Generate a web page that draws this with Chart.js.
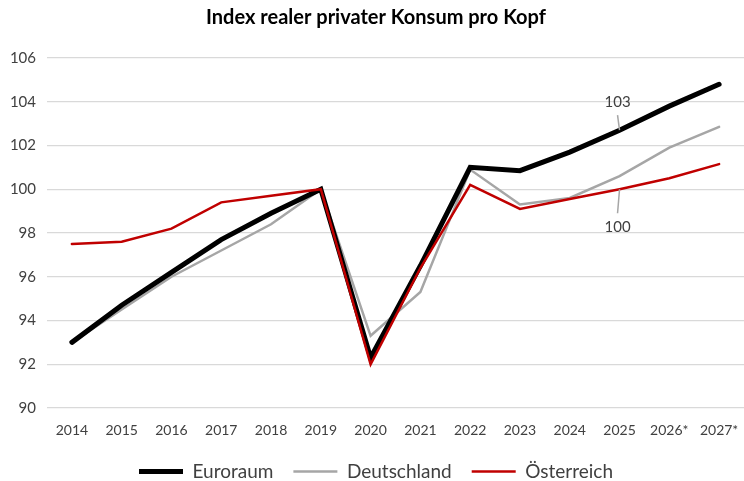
<!DOCTYPE html>
<html>
<head>
<meta charset="utf-8">
<script src="https://cdn.jsdelivr.net/npm/chart.js@4"></script>
<style>
  html, body { margin: 0; padding: 0; background: #fff; }
  #wrap { width: 744px; height: 481px; }
</style>
</head>
<body>
<div id="wrap"><canvas id="konsumChart" width="744" height="481"></canvas></div>
<script>
// Index realer privater Konsum pro Kopf (2019 = 100)
const years = ['2014', '2015', '2016', '2017', '2018', '2019', '2020', '2021', '2022', '2023', '2024', '2025', '2026*', '2027*'];
const euroraum = [93.0, 94.7, 96.2, 97.7, 98.9, 100.0, 92.3, 96.5, 101.0, 100.85, 101.7, 102.7, 103.8, 104.8];
const deutschland = [93.0, 94.5, 96.0, 97.2, 98.4, 100.0, 93.3, 95.3, 100.9, 99.3, 99.6, 100.6, 101.9, 102.85];
const oesterreich = [97.5, 97.6, 98.2, 99.4, 99.7, 100.0, 92.0, 96.4, 100.2, 99.1, 99.55, 100.0, 100.5, 101.15];
const yTicks = [90, 92, 94, 96, 98, 100, 102, 104, 106];

// labelled points: [dataset index, data index, leader end offset, text offset]
const pointLabels = [[0, 11, -15, -28], [2, 11, 24, 38]];

const fontFamily = 'Lato, "Open Sans", sans-serif';

// Draws the two data labels with their leader lines
const leaderLabels = {
    id: 'leaderLabels',
    afterDatasetsDraw(chart) {
        const ctx = chart.ctx;
        ctx.save();
        ctx.font = '15px ' + fontFamily;
        ctx.fillStyle = '#404040';
        ctx.strokeStyle = '#a6a6a6';
        ctx.lineWidth = 1.5;
        ctx.textAlign = 'center';
        ctx.textBaseline = 'middle';
        pointLabels.forEach(([ds, idx, lineEnd, textOff]) => {
            const pt = chart.getDatasetMeta(ds).data[idx];
            const value = chart.data.datasets[ds].data[idx];
            const x = pt.x - 2;
            ctx.beginPath();
            ctx.moveTo(pt.x, pt.y);
            ctx.lineTo(x, pt.y + lineEnd);
            ctx.stroke();
            ctx.fillText(String(Math.round(value)), x, pt.y + textOff);
        });
        ctx.restore();
    }
};

const ctx = document.getElementById('konsumChart').getContext('2d');
const konsumChart = new Chart(ctx, {
    type: 'line',
    data: {
        labels: years,
        datasets: [
            {
                label: 'Euroraum',
                data: euroraum,
                borderColor: '#000000',
                backgroundColor: '#000000',
                borderWidth: 5,
                order: 1
            },
            {
                label: 'Deutschland',
                data: deutschland,
                borderColor: '#a6a6a6',
                backgroundColor: '#a6a6a6',
                borderWidth: 2.5,
                order: 2
            },
            {
                label: 'Österreich',
                data: oesterreich,
                borderColor: '#c00000',
                backgroundColor: '#c00000',
                borderWidth: 2.5,
                order: 0
            }
        ]
    },
    options: {
        responsive: false,
        animation: false,
        layout: { padding: { left: 0, right: -8, top: 0, bottom: -10 } },
        elements: {
            point: { radius: 0, hoverRadius: 0 },
            line: { tension: 0, borderCapStyle: 'round', borderJoinStyle: 'miter' }
        },
        plugins: {
            title: {
                display: true,
                text: 'Index realer privater Konsum pro Kopf',
                color: '#000000',
                font: { family: fontFamily, size: 20, weight: 'bold' },
                padding: { top: 6, bottom: 28 }
            },
            legend: {
                position: 'bottom',
                labels: {
                    usePointStyle: true,
                    pointStyle: 'line',
                    pointStyleWidth: 44,
                    color: '#404040',
                    font: { family: fontFamily, size: 19 },
                    padding: 20,
                    sort: (a, b) => a.datasetIndex - b.datasetIndex
                }
            },
            tooltip: { enabled: false }
        },
        scales: {
            x: {
                offset: true,
                afterFit: (scale) => {
                    scale.height = 34;
                    scale.paddingLeft = 0;
                    scale.paddingRight = 0;
                },
                grid: { display: false, drawTicks: false },
                border: { display: false },
                ticks: {
                    color: '#404040',
                    font: { family: fontFamily, size: 14 },
                    maxRotation: 0,
                    autoSkip: false,
                    padding: 14
                }
            },
            y: {
                min: 90,
                max: 106,
                afterBuildTicks: (scale) => {
                    scale.ticks = yTicks.map(v => ({ value: v }));
                },
                afterFit: (scale) => { scale.width = 47; },
                grid: { color: '#d9d9d9', lineWidth: 1.3, drawTicks: false },
                border: { display: false },
                ticks: {
                    color: '#404040',
                    font: { family: fontFamily, size: 15 },
                    padding: 11
                }
            }
        }
    },
    plugins: [leaderLabels]
});
</script>
</body>
</html>
